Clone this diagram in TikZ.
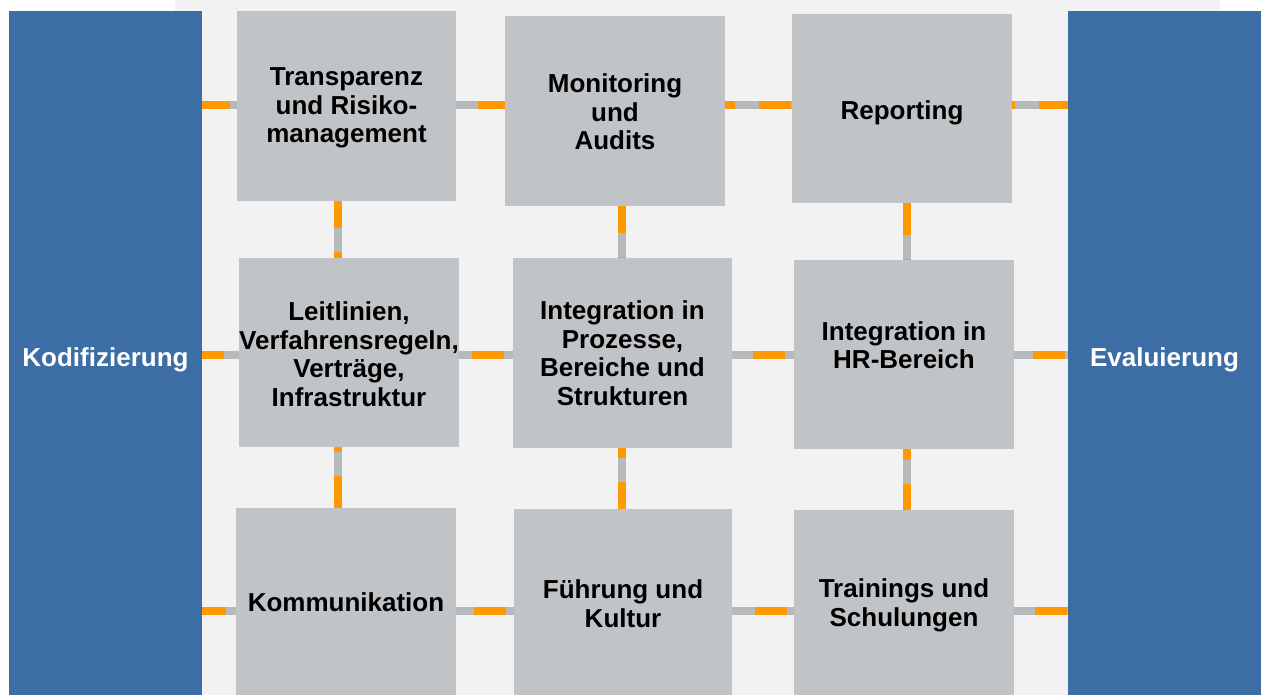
\documentclass[tikz,border=0pt]{standalone}
\usepackage{fontspec}
\setmainfont{Liberation Sans}
\definecolor{barblue}{HTML}{3C6DA4}
\definecolor{boxgrey}{HTML}{C1C4C7}
\definecolor{linegrey}{HTML}{B7BABD}
\definecolor{conorange}{HTML}{FF9900}
\definecolor{bggrey}{HTML}{F2F2F2}
\tikzset{
  bar/.style={fill=barblue, draw=none, inner sep=0pt},
  box/.style={fill=boxgrey, draw=none, inner sep=0pt},
  boxtext/.style={align=center, inner sep=0pt, font=\fontsize{26}{28.5}\selectfont\bfseries, text=black},
  bartext/.style={inner sep=0pt, font=\fontsize{26}{28.5}\selectfont\bfseries, text=white},
  greyline/.style={draw=linegrey, line width=7.5pt},
  orangeline/.style={draw=conorange, line width=7.5pt, dash pattern=on 32pt off 24pt}
}
\newcommand\conn[3]{\draw[greyline] #1 -- #2; \draw[orangeline, dash phase=#3pt] #1 -- #2;}
\begin{document}
\begin{tikzpicture}[x=1pt,y=-1pt]
\useasboundingbox (0,0) rectangle (1261,695);
\fill[white] (0,0) rectangle (1261,695);
\fill[bggrey] (175,0) rectangle (1220,695);

% side bars
\node[bar, minimum width=193pt, minimum height=690pt] (lb) at (105.5,356) {};
\node[bar, minimum width=193pt, minimum height=690pt] (rb) at (1164.5,356) {};
\node[bartext] (kod) at (105.5,360) {Kodifizierung};
\node[bartext] (eva) at (1164.5,360) {Evaluierung};

% boxes
\node[box, minimum width=219pt, minimum height=190pt] (T) at (346.5,106) {};
\node[box, minimum width=220pt, minimum height=190pt] (M) at (615,111) {};
\node[box, minimum width=220pt, minimum height=189pt] (R) at (902,108.5) {};
\node[box, minimum width=220pt, minimum height=189pt] (L) at (349,352.5) {};
\node[box, minimum width=219pt, minimum height=190pt] (I) at (622.5,353) {};
\node[box, minimum width=220pt, minimum height=189pt] (H) at (904,354.5) {};
\node[box, minimum width=220pt, minimum height=192pt] (K) at (346,604) {};
\node[box, minimum width=218pt, minimum height=192pt] (F) at (623,605) {};
\node[box, minimum width=220pt, minimum height=190pt] (S) at (904,605) {};

% connectors row 1
\conn{(lb.east |- 0,105)}{(T.west |- 0,105)}{4}
\conn{(T.east |- 0,105)}{(M.west |- 0,105)}{34}
\conn{(M.east |- 0,105)}{(R.west |- 0,105)}{22}
\conn{(R.east |- 0,105)}{(rb.west |- 0,105)}{29}
% row 2
\conn{(lb.east |- 0,355)}{(L.west |- 0,355)}{10}
\conn{(L.east |- 0,355)}{(I.west |- 0,355)}{43}
\conn{(I.east |- 0,355)}{(H.west |- 0,355)}{35}
\conn{(H.east |- 0,355)}{(rb.west |- 0,355)}{37}
% row 3
\conn{(lb.east |- 0,611)}{(K.west |- 0,611)}{8}
\conn{(K.east |- 0,611)}{(F.west |- 0,611)}{38}
\conn{(F.east |- 0,611)}{(S.west |- 0,611)}{33}
\conn{(S.east |- 0,611)}{(rb.west |- 0,611)}{35}
% columns
\conn{(T.south -| 338,0)}{(L.north -| 338,0)}{5}
\conn{(L.south -| 338,0)}{(K.north -| 338,0)}{27}
\conn{(M.south -| 622,0)}{(I.north -| 622,0)}{5}
\conn{(I.south -| 622,0)}{(F.north -| 622,0)}{22}
\conn{(R.south -| 907,0)}{(H.north -| 907,0)}{0}
\conn{(H.south -| 907,0)}{(S.north -| 907,0)}{21}

% texts
\node[boxtext] (tT) at (346.5,108) {Transparenz\\und Risiko-\\management};
\node[boxtext] (tM) at (615,112) {Monitoring\\und\\Audits};
\node[boxtext] (tR) at (902,113) {Reporting};
\node[boxtext] (tL) at (349,354) {Leitlinien,\\Verfahrensregeln,\\Verträge,\\Infrastruktur};
\node[boxtext] (tI) at (622.5,353) {Integration in\\Prozesse,\\Bereiche und\\Strukturen};
\node[boxtext] (tH) at (904,345) {Integration in\\HR-Bereich};
\node[boxtext] (tK) at (346,602) {Kommunikation};
\node[boxtext] (tF) at (623,603.5) {Führung und\\Kultur};
\node[boxtext] (tS) at (904,605.5) {Trainings und\\Schulungen};
\end{tikzpicture}
\end{document}
